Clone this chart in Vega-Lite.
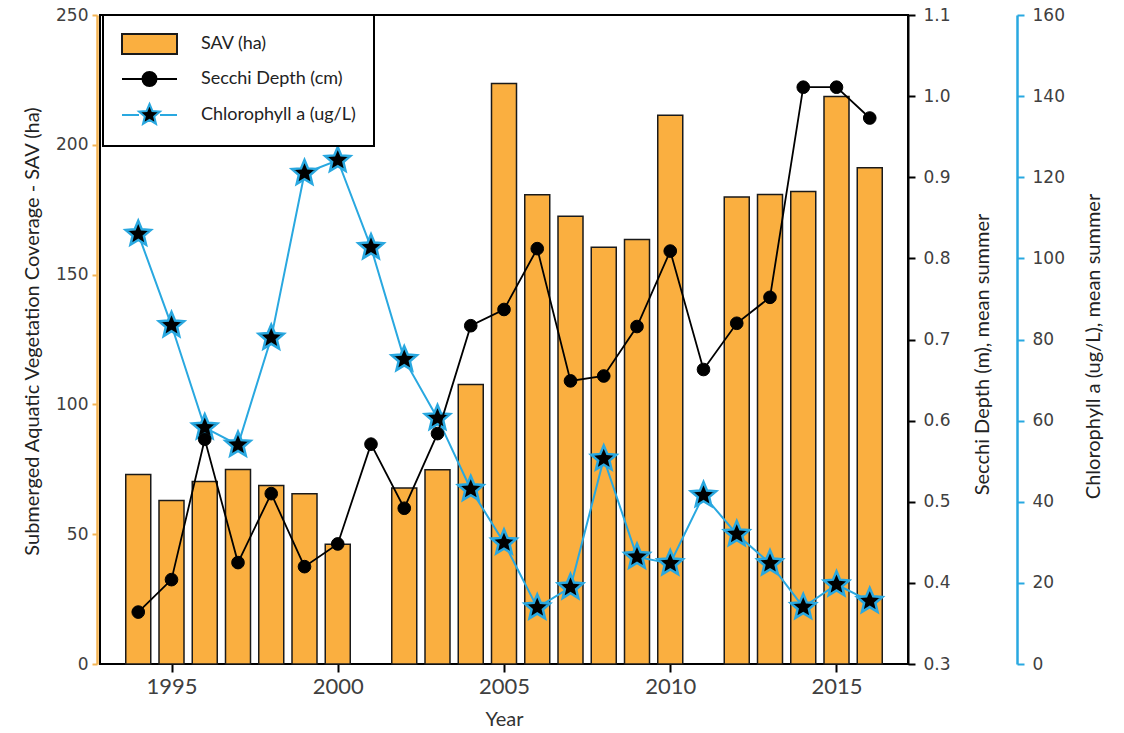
{
  "$schema": "https://vega.github.io/schema/vega-lite/v6.json",
  "width": 808,
  "height": 649,
  "autosize": "none",
  "padding": {"left": 100, "top": 15, "right": 216, "bottom": 69},
  "background": "white",
  "view": {"stroke": "black", "strokeWidth": 2},
  "config": {
    "axis": {"grid": false, "labelFont": "DejaVu Sans", "titleFont": "Lato", "titleFontWeight": "normal"},
    "legend": {
      "orient": "none",
      "legendX": 3,
      "legendY": 0,
      "padding": 18,
      "rowPadding": 10,
      "symbolOffset": 0,
      "labelOffset": 58,
      "symbolSize": 400,
      "symbolStrokeWidth": 2,
      "symbolOpacity": 1,
      "labelFont": "Lato",
      "labelFontSize": 18,
      "labelColor": "#222222",
      "fillColor": "white",
      "strokeColor": "black",
      "strokeWidth": 2
    }
  },
  "data": {
    "values": [
      {"Year": 1994, "SAV": 73, "Secchi": 0.364, "Chl": 106},
      {"Year": 1995, "SAV": 63, "Secchi": 0.404, "Chl": 83.5},
      {"Year": 1996, "SAV": 70.3, "Secchi": 0.577, "Chl": 58.3},
      {"Year": 1997, "SAV": 74.9, "Secchi": 0.425, "Chl": 54},
      {"Year": 1998, "SAV": 68.8, "Secchi": 0.51, "Chl": 80.4},
      {"Year": 1999, "SAV": 65.6, "Secchi": 0.42, "Chl": 121},
      {"Year": 2000, "SAV": 46.1, "Secchi": 0.448, "Chl": 124.2},
      {"Year": 2001, "SAV": null, "Secchi": 0.571, "Chl": 102.7},
      {"Year": 2002, "SAV": 67.8, "Secchi": 0.492, "Chl": 75.1},
      {"Year": 2003, "SAV": 74.8, "Secchi": 0.584, "Chl": 60.6},
      {"Year": 2004, "SAV": 107.7, "Secchi": 0.717, "Chl": 43.1},
      {"Year": 2005, "SAV": 223.6, "Secchi": 0.737, "Chl": 29.9},
      {"Year": 2006, "SAV": 180.8, "Secchi": 0.812, "Chl": 13.9},
      {"Year": 2007, "SAV": 172.5, "Secchi": 0.649, "Chl": 18.9},
      {"Year": 2008, "SAV": 160.5, "Secchi": 0.655, "Chl": 50.6},
      {"Year": 2009, "SAV": 163.5, "Secchi": 0.716, "Chl": 26.4},
      {"Year": 2010, "SAV": 211.4, "Secchi": 0.809, "Chl": 24.8},
      {"Year": 2011, "SAV": null, "Secchi": 0.663, "Chl": 41.6},
      {"Year": 2012, "SAV": 179.9, "Secchi": 0.72, "Chl": 32},
      {"Year": 2013, "SAV": 180.9, "Secchi": 0.752, "Chl": 24.8},
      {"Year": 2014, "SAV": 182, "Secchi": 1.011, "Chl": 14},
      {"Year": 2015, "SAV": 218.6, "Secchi": 1.011, "Chl": 19.6},
      {"Year": 2016, "SAV": 191.2, "Secchi": 0.973, "Chl": 15.5}
    ]
  },
  "encoding": {
    "x": {
      "field": "Year",
      "type": "quantitative",
      "scale": {"domain": [1993, 2017], "nice": false, "zero": false},
      "axis": {
        "orient": "bottom",
        "values": [1995, 2000, 2005, 2010, 2015],
        "format": "d",
        "domain": false,
        "tickColor": "black",
        "tickSize": 8,
        "tickWidth": 2,
        "labelFont": "Lato",
        "labelFontSize": 22,
        "labelColor": "#404040",
        "labelPadding": 4,
        "title": "Year",
        "titleFontSize": 20,
        "titleColor": "#333333",
        "titlePadding": 12
      }
    }
  },
  "layer": [
    {
      "mark": {"type": "bar", "width": 25, "strokeWidth": 1.5},
      "encoding": {
        "y": {
          "field": "SAV",
          "type": "quantitative",
          "scale": {"domain": [0, 250], "nice": false},
          "axis": {
            "orient": "left",
            "offset": 3,
            "values": [0, 50, 100, 150, 200, 250],
            "domainColor": "#F4B555",
            "domainWidth": 2.5,
            "tickColor": "#F4B555",
            "tickSize": 5,
            "tickWidth": 2,
            "labelFontSize": 17,
            "labelColor": "#404040",
            "labelPadding": 4,
            "title": "Submerged Aquatic Vegetation Coverage - SAV (ha)",
            "titleFontSize": 20,
            "titleColor": "#222222",
            "titleAngle": -90,
            "titleX": -65,
            "titleY": 316,
            "titleAlign": "center",
            "titleBaseline": "middle"
          }
        },
        "fill": {
          "datum": "SAV (ha)",
          "type": "nominal",
          "scale": {
            "domain": ["SAV (ha)", "Secchi Depth (cm)", "Chlorophyll a (ug/L)"],
            "range": ["#FAAF40", "black", "black"]
          },
          "legend": {"title": null, "labelOffset": 58}
        },
        "stroke": {
          "datum": "SAV (ha)",
          "type": "nominal",
          "scale": {
            "domain": ["SAV (ha)", "Secchi Depth (cm)", "Chlorophyll a (ug/L)"],
            "range": ["#1a1a1a", "black", "#29A8E0"]
          },
          "legend": {"title": null, "labelOffset": 58}
        }
      }
    },
    {
      "transform": [{"filter": "false"}],
      "mark": {"type": "point", "filled": true, "opacity": 1},
      "encoding": {
        "shape": {
          "datum": "SAV (ha)",
          "type": "nominal",
          "scale": {
            "domain": ["SAV (ha)", "Secchi Depth (cm)", "Chlorophyll a (ug/L)"],
            "range": [
              "M-1,-1H4.5V1H-1Z",
              "M-1,0H4.5M2.45,0A0.7,0.7,0,1,1,1.05,0A0.7,0.7,0,1,1,2.45,0Z",
              "M-1,0H0.7M2.8,0H4.5M1.75,-1.1L2.04,-0.4L2.8,-0.34L2.22,0.15L2.4,0.89L1.75,0.5L1.1,0.89L1.28,0.15L0.7,-0.34L1.46,-0.4Z"
            ]
          },
          "legend": {"title": null, "labelOffset": 58}
        }
      }
    },
    {
      "layer": [
        {
          "mark": {"type": "line", "strokeWidth": 2},
          "encoding": {
            "y": {
              "field": "Chl",
              "type": "quantitative",
              "scale": {"domain": [0, 160], "nice": false},
              "axis": {
                "orient": "right",
                "offset": 109,
                "values": [0, 20, 40, 60, 80, 100, 120, 140, 160],
                "domainColor": "#29A8E0",
                "domainWidth": 2.5,
                "tickColor": "#29A8E0",
                "tickSize": 7,
                "tickWidth": 2,
                "labelFontSize": 17,
                "labelColor": "#404040",
                "labelPadding": 8,
                "title": "Chlorophyll a (ug/L), mean summer",
                "titleFontSize": 20,
                "titleColor": "#222222",
                "titleAngle": -90,
                "titleX": 76,
                "titleY": 331,
                "titleAlign": "center",
                "titleBaseline": "middle"
              }
            },
            "stroke": {"datum": "Chlorophyll a (ug/L)", "type": "nominal", "legend": {"title": null, "labelOffset": 58}}
          }
        },
        {
          "mark": {
            "type": "point",
            "shape": "M0,-1L0.265,-0.364L0.951,-0.309L0.428,0.139L0.588,0.809L0,0.45L-0.588,0.809L-0.428,0.139L-0.951,-0.309L-0.265,-0.364Z",
            "size": 700,
            "filled": true,
            "strokeWidth": 2.5,
            "opacity": 1
          },
          "encoding": {
            "y": {"field": "Chl", "type": "quantitative"},
            "fill": {"datum": "Chlorophyll a (ug/L)", "type": "nominal", "legend": {"title": null, "labelOffset": 58}},
            "stroke": {"datum": "Chlorophyll a (ug/L)", "type": "nominal", "legend": {"title": null, "labelOffset": 58}}
          }
        }
      ]
    },
    {
      "layer": [
        {
          "mark": {"type": "line", "strokeWidth": 1.8},
          "encoding": {
            "y": {
              "field": "Secchi",
              "type": "quantitative",
              "scale": {"domain": [0.3, 1.1], "nice": false, "zero": false},
              "axis": {
                "orient": "right",
                "values": [0.3, 0.4, 0.5, 0.6, 0.7, 0.8, 0.9, 1.0, 1.1],
                "format": ".1f",
                "domainColor": "black",
                "domainWidth": 2,
                "tickColor": "black",
                "tickSize": 7,
                "tickWidth": 2,
                "labelFontSize": 17,
                "labelColor": "#404040",
                "labelPadding": 8,
                "title": "Secchi Depth (m), mean summer",
                "titleFontSize": 20,
                "titleColor": "#222222",
                "titleAngle": -90,
                "titleX": 74,
                "titleY": 339,
                "titleAlign": "center",
                "titleBaseline": "middle"
              }
            },
            "stroke": {"datum": "Secchi Depth (cm)", "type": "nominal", "legend": {"title": null, "labelOffset": 58}}
          }
        },
        {
          "mark": {"type": "point", "shape": "circle", "size": 160, "filled": true, "strokeWidth": 1, "opacity": 1},
          "encoding": {
            "y": {"field": "Secchi", "type": "quantitative"},
            "fill": {"datum": "Secchi Depth (cm)", "type": "nominal", "legend": {"title": null, "labelOffset": 58}},
            "stroke": {"datum": "Secchi Depth (cm)", "type": "nominal", "legend": {"title": null, "labelOffset": 58}}
          }
        }
      ]
    }
  ],
  "resolve": {"scale": {"y": "independent"}, "axis": {"y": "independent"}}
}
